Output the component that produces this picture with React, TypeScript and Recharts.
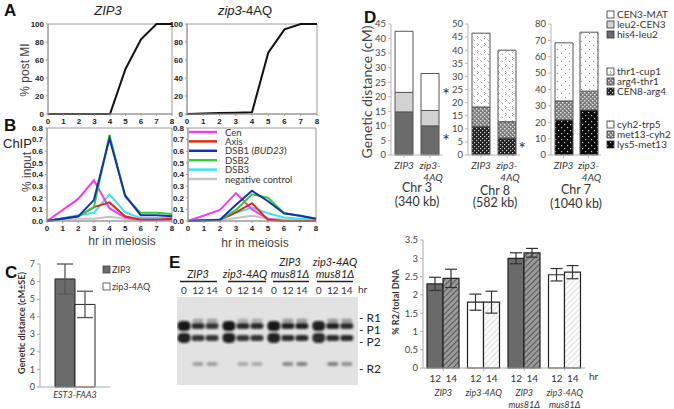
import React from 'react';
import {
  LineChart, Line, XAxis, YAxis, BarChart, Bar, ErrorBar, Cell,
  ScatterChart, Scatter, ReferenceArea,
} from 'recharts';

// ---- panel A: % post MI
const hours = [0, 1, 2, 3, 4, 5, 6, 7, 8];
const postMiZip3 = [0, 0, 0, 0, 0, 50, 83, 100, 100];
const postMiAq = [0, 0.5, 1, 1.5, 2, 68, 94, 100, 100];

// ---- panel B: ChIP % input
const chipHours = [0, 2, 3, 4, 5, 6, 7, 8];
const cenZip3 = [0, 0.19, 0.35, 0.11, 0.03, 0.01, 0.01, 0.01];
const axisZip3 = [0, 0.04, 0.12, 0.16, 0.04, 0.01, 0.01, 0.02];
const dsb1Zip3 = [0, 0.04, 0.18, 0.71, 0.22, 0.05, 0.05, 0.04];
const dsb2Zip3 = [0, 0.04, 0.12, 0.74, 0.21, 0.07, 0.07, 0.06];
const dsb3Zip3 = [0, 0.05, 0.07, 0.23, 0.075, 0.025, 0.025, 0.03];
const negZip3 = [0, 0.02, 0.02, 0.037, 0.02, 0.01, 0.01, 0.01];
const cenAq = [0, 0.095, 0.24, 0.1, 0.02, 0, 0, 0];
const axisAq = [0, 0.01, 0.075, 0.153, 0.01, 0, 0, 0];
const dsb1Aq = [0, 0.01, 0.14, 0.26, 0.17, 0.066, 0.046, 0.02];
const dsb2Aq = [0, 0.01, 0.095, 0.23, 0.2, 0.066, 0.046, 0.02];
const dsb3Aq = [0, 0.01, 0.07, 0.115, 0.066, 0.03, 0.02, 0.02];
const negAq = [0, 0, 0.025, 0.046, 0.02, 0.01, 0.01, 0.01];
const chipSeries = ['Cen', 'Axis', 'DSB1', 'DSB2', 'DSB3', 'negative control'];

// ---- panel C
const cStrains = ['ZIP3', 'zip3-4AQ'];
const cValues = [6.15, 4.7];
const cErrors = [0.85, 0.75];

// ---- panel D (cM, per interval, bottom to top)
const dStrains = ['ZIP3', 'zip3-4AQ'];
const chr3Intervals = ['his4-leu2', 'leu2-CEN3', 'CEN3-MAT'];
const chr3Values = [[14.8, 6.7, 21.0], [10.0, 5.3, 12.7]];
const chr8Intervals = ['CEN8-arg4', 'arg4-thr1', 'thr1-cup1'];
const chr8Values = [[10.8, 7.5, 28.2], [6.5, 6.2, 27.3]];
const chr7Intervals = ['lys5-met13', 'met13-cyh2', 'cyh2-trp5'];
const chr7Values = [[21.5, 11.5, 35.5], [27.5, 11.5, 36.0]];

// ---- panel E gel
const laneHr = ['0', '12', '14', '0', '12', '14', '0', '12', '14', '0', '12', '14'];
const lanePos = [0, 1, 2, 3.2, 4.2, 5.2, 6.4, 7.4, 8.4, 9.6, 10.6, 11.6];
const bandNames = ['R1', 'P1', 'P2', 'R2'];
const bandMobility = [2.7, 3.3, 4.65, 7.6];
const bandIntensity = [
  [0, 0.3, 0.3, 0, 0.25, 0.25, 0, 0.35, 0.35, 0, 0.35, 0.35],
  [0.95, 0.85, 0.8, 0.95, 0.85, 0.85, 0.95, 0.9, 0.9, 0.9, 0.9, 0.85],
  [0.9, 0.8, 0.8, 0.9, 0.8, 0.8, 0.9, 0.85, 0.85, 0.85, 0.85, 0.85],
  [0, 0.3, 0.3, 0, 0.25, 0.25, 0, 0.4, 0.45, 0, 0.45, 0.38],
];

// ---- panel E quantification
const eGenotypes = ['ZIP3', 'zip3-4AQ', 'ZIP3 mus81Δ', 'zip3-4AQ mus81Δ'];
const r2At12 = [2.3, 1.8, 3.0, 2.55];
const r2At14 = [2.45, 1.8, 3.15, 2.62];
const err12 = [0.18, 0.22, 0.15, 0.17];
const err14 = [0.25, 0.3, 0.12, 0.18];

const postMiRows = hours.map((hr, i) => ({ hr, zip3: postMiZip3[i], aq: postMiAq[i] }));
const chipRows = (vals: number[][]) =>
  chipHours.map((hr, i) => {
    const r: any = { hr };
    chipSeries.forEach((s, j) => (r[s] = vals[j][i]));
    return r;
  });
const chipZip3Rows = chipRows([cenZip3, axisZip3, dsb1Zip3, dsb2Zip3, dsb3Zip3, negZip3]);
const chipAqRows = chipRows([cenAq, axisAq, dsb1Aq, dsb2Aq, dsb3Aq, negAq]);
const cRows = [{ name: 'EST3-FAA3', zip3: cValues[0], zip3Err: cErrors[0], aq: cValues[1], aqErr: cErrors[1] }];
const stackRows = (names: string[], vals: number[][]) =>
  dStrains.map((s, i) => {
    const r: any = { name: s };
    names.forEach((n, j) => (r[n] = vals[i][j]));
    return r;
  });
const gelRows = bandNames.flatMap((b, bi) =>
  lanePos
    .map((x, li) => ({ x, y: bandMobility[bi], band: b, int: bandIntensity[bi][li], first: laneHr[li] === '0' }))
    .filter((d) => d.int > 0)
);
const eRows = eGenotypes.map((g, i) => ({ g, h12: r2At12[i], e12: err12[i], h14: r2At14[i], e14: err14[i] }));

const chipColors: Record<string, string> = {
  Cen: '#f23cf0', Axis: '#dd2a12', DSB1: '#1330b4', DSB2: '#2fd02f', DSB3: '#3fe2ef', 'negative control': '#c4c4c4',
};
const drawOrder = ['negative control', 'DSB3', 'Cen', 'Axis', 'DSB2', 'DSB1'];

const chr3Fills = ['#6b6b6b', '#d2d2d2', '#ffffff'];
const chr8Fills = ['url(#dotDark)', 'url(#dotMid)', 'url(#dotLight)'];
const chr7Fills = ['url(#dotBlack)', 'url(#dotMid)', 'url(#dotSparse)'];
const e12Fills = ['#6a6a6a', '#ffffff', '#6a6a6a', '#ffffff'];
const e14Fills = ['url(#hatchDark)', 'url(#hatchLight)', 'url(#hatchDark)', 'url(#hatchLight)'];

const arial = 'Liberation Sans, Arial, sans-serif';
const cal = 'Lato, Open Sans, sans-serif';
const tickBold = { fontSize: 8, fontWeight: 700, fill: '#222', fontFamily: arial };
const grayLine = { stroke: '#9a9a9a' };
const box = (left: number, top: number, width: number, height: number): React.CSSProperties => ({
  position: 'absolute', left, top, width, height,
});

const PostMi = ({ rows, k, left, w, yw, right }: any) => (
  <div style={box(left, 0, w, 130)}>
    <LineChart width={w} height={130} data={rows} margin={{ top: 24, right, bottom: 0, left: 0 }}>
      <XAxis dataKey="hr" type="number" domain={[0, 8]} ticks={hours} interval={0} height={16}
        tickSize={2} tick={tickBold} axisLine={grayLine} tickLine={grayLine} />
      <YAxis domain={[0, 100]} ticks={[0, 20, 40, 60, 80, 100]} width={yw} tickSize={2} interval={0}
        tick={tickBold} axisLine={grayLine} tickLine={grayLine} />
      <ReferenceArea x1={0} x2={8} y1={0} y2={100} fill="none" stroke="#9a9a9a" />
      <Line dataKey={k} stroke="#111" strokeWidth={2} dot={false} isAnimationActive={false} />
    </LineChart>
  </div>
);

const Chip = ({ rows, left, w, yw, right }: any) => (
  <div style={box(left, 118, w, 130)}>
    <LineChart width={w} height={130} data={rows} margin={{ top: 10, right, bottom: 15, left: 0 }}>
      <XAxis dataKey="hr" type="number" domain={[0, 8]} ticks={hours} interval={0} height={12}
        tickSize={2} tick={tickBold} axisLine={grayLine} tickLine={grayLine} />
      <YAxis domain={[0, 0.8]} ticks={[0, 0.1, 0.2, 0.3, 0.4, 0.5, 0.6, 0.7, 0.8]} width={yw} interval={0}
        tickFormatter={(v: number) => v.toFixed(1)} tickSize={2} tick={tickBold}
        axisLine={grayLine} tickLine={grayLine} />
      <ReferenceArea x1={0} x2={8} y1={0} y2={0.8} fill="none" stroke="#9a9a9a" />
      {drawOrder.map((s) => (
        <Line key={s} dataKey={s} stroke={chipColors[s]} strokeWidth={2} dot={false}
          isAnimationActive={false} />
      ))}
    </LineChart>
  </div>
);

const DTick = ({ x, y, payload }: any) => {
  const v: string = payload.value;
  const lines = v === 'zip3-4AQ' ? ['zip3-', '4AQ'] : [v];
  return (
    <g>
      {lines.map((l, i) => (
        <text key={i} x={x + (i ? 3 : 0)} y={y + 9 + i * 12} textAnchor="middle" fontSize={10}
          fontStyle="italic" fill="#333" fontFamily={cal}>{l}</text>
      ))}
    </g>
  );
};

const Stack = ({ rows, names, fills, left, w, yw, max, step }: any) => {
  const ticks: number[] = [];
  for (let t = 0; t <= max; t += step) ticks.push(t);
  return (
    <div style={box(left, 0, w, 210)}>
      <BarChart width={w} height={210} data={rows} margin={{ top: 24, right: 0, bottom: 0, left: 0 }}
        barSize={18}>
        <XAxis dataKey="name" height={55} tick={<DTick />} tickSize={3} axisLine={{ stroke: '#b5b5b5' }}
          tickLine={{ stroke: '#b5b5b5' }} interval={0} />
        <YAxis domain={[0, max]} ticks={ticks} width={yw} interval={0} tickSize={3}
          tick={{ fontSize: 9.5, fill: '#444', fontFamily: cal }} axisLine={{ stroke: '#b5b5b5' }}
          tickLine={{ stroke: '#b5b5b5' }} />
        {names.map((n: string, i: number) => (
          <Bar key={n} dataKey={n} stackId="s" fill={fills[i]} stroke="#555" strokeWidth={1}
            isAnimationActive={false} />
        ))}
      </BarChart>
    </div>
  );
};

const ETick = ({ x, y, payload }: any) => {
  const parts: string[] = payload.value.split(' ');
  return (
    <g fontFamily={cal}>
      <text x={x - 8} y={y + 9} textAnchor="middle" fontSize={10} fill="#333">12</text>
      <text x={x + 8} y={y + 9} textAnchor="middle" fontSize={10} fill="#333">14</text>
      {parts.map((p, i) => (
        <text key={i} x={x} y={y + 23 + i * 12} textAnchor="middle" fontSize={9} fontStyle="italic"
          fill="#333">{p}</text>
      ))}
    </g>
  );
};

const Band = (p: any) => {
  const { cx, cy, payload } = p;
  const small = payload.band === 'R1' || payload.band === 'R2';
  const h = payload.first ? 10 : small ? 4 : 6;
  const w = small ? 11 : 13;
  return (
    <rect x={cx - w / 2} y={cy - h / 2} width={w} height={h} rx={h / 2.2} fill="#0d0d0d"
      opacity={payload.int} filter="url(#blur)" />
  );
};

const Patterns = () => (
  <svg width={0} height={0} style={{ position: 'absolute' }}>
    <defs>
      <pattern id="hatchDark" width="4" height="4" patternUnits="userSpaceOnUse" patternTransform="rotate(45)">
        <rect width="4" height="4" fill="#9a9a9a" />
        <line x1="0" y1="0" x2="0" y2="4" stroke="#444" strokeWidth="1.6" />
      </pattern>
      <pattern id="hatchLight" width="4" height="4" patternUnits="userSpaceOnUse" patternTransform="rotate(45)">
        <rect width="4" height="4" fill="#ffffff" />
        <line x1="0" y1="0" x2="0" y2="4" stroke="#cfcfcf" strokeWidth="1.4" />
      </pattern>
      <pattern id="dotDark" width="4" height="4" patternUnits="userSpaceOnUse">
        <rect width="4" height="4" fill="#1e1e1e" />
        <rect x="0" y="0" width="1.2" height="1.2" fill="#dcdcdc" />
        <rect x="2" y="2" width="1.2" height="1.2" fill="#dcdcdc" />
      </pattern>
      <pattern id="dotMid" width="4" height="4" patternUnits="userSpaceOnUse">
        <rect width="4" height="4" fill="#7c7c7c" />
        <rect x="0" y="0" width="1.4" height="1.4" fill="#e8e8e8" />
        <rect x="2" y="2" width="1.4" height="1.4" fill="#e8e8e8" />
      </pattern>
      <pattern id="dotLight" width="7" height="7" patternUnits="userSpaceOnUse">
        <rect width="7" height="7" fill="#ffffff" />
        <path d="M1 1 l1.5 1.5 l-1.5 1.5" stroke="#8a8a8a" strokeWidth="0.8" fill="none" />
        <path d="M4.5 4.5 l1.5 1.5" stroke="#8a8a8a" strokeWidth="0.8" fill="none" />
      </pattern>
      <pattern id="dotBlack" width="6" height="6" patternUnits="userSpaceOnUse">
        <rect width="6" height="6" fill="#0a0a0a" />
        <rect x="1" y="1" width="1.2" height="1.2" fill="#cfcfcf" />
        <rect x="4" y="4" width="1.2" height="1.2" fill="#cfcfcf" />
      </pattern>
      <pattern id="dotSparse" width="8" height="8" patternUnits="userSpaceOnUse">
        <rect width="8" height="8" fill="#ffffff" />
        <rect x="1" y="1" width="1" height="1" fill="#8a8a8a" />
        <rect x="5" y="5" width="1" height="1" fill="#8a8a8a" />
      </pattern>
      <filter id="blur" x="-50%" y="-80%" width="200%" height="260%">
        <feGaussianBlur stdDeviation="0.9" />
      </filter>
    </defs>
  </svg>
);

const legendD = [
  { names: chr3Intervals, fills: chr3Fills, top: 15 },
  { names: chr8Intervals, fills: chr8Fills, top: 72 },
  { names: chr7Intervals, fills: chr7Fills, top: 125 },
];
const gelGroups = [
  { lines: ['ZIP3'], x: 198, x1: 180, x2: 217 },
  { lines: ['zip3-4AQ'], x: 245, x1: 228, x2: 266 },
  { lines: ['ZIP3', 'mus81Δ'], x: 290, x1: 273, x2: 309 },
  { lines: ['zip3-4AQ', 'mus81Δ'], x: 335, x1: 317, x2: 353 },
];
const bandLabelY = [322, 334, 346, 373];

const Overlay = () => (
  <svg width={674} height={409} style={{ position: 'absolute', left: 0, top: 0, pointerEvents: 'none' }}>
    <g fontFamily={arial} fontWeight={700} fontSize={17} fill="#111">
      <text x={4} y={16}>A</text>
      <text x={4} y={131}>B</text>
      <text x={5} y={278}>C</text>
      <text x={364} y={23}>D</text>
      <text x={169} y={268}>E</text>
    </g>
    <g fontFamily={arial} fill="#222">
      <text x={108} y={15} fontSize={13} fontStyle="italic" textAnchor="middle">ZIP3</text>
      <text x={245} y={15} fontSize={13} textAnchor="middle">
        <tspan fontStyle="italic">zip3</tspan>-4AQ
      </text>
      <text transform="translate(29,70) rotate(-90)" fontSize={12} textAnchor="middle" fill="#444">% post MI</text>
      <text x={3} y={148} fontSize={13}>ChIP</text>
      <text transform="translate(31,172) rotate(-90)" fontSize={12} textAnchor="middle" fill="#444">% input</text>
      <text x={122} y={245} fontSize={12} textAnchor="middle" fill="#444">hr in meiosis</text>
      <text x={255} y={247} fontSize={12} textAnchor="middle" fill="#444">hr in meiosis</text>
    </g>
    {chipSeries.map((s, i) => (
      <g key={s}>
        <line x1={189} x2={217} y1={132 + i * 9.4} y2={132 + i * 9.4} stroke={chipColors[s]} strokeWidth={2.5} />
        <text x={225} y={135.5 + i * 9.4} fontSize={9.5} fontFamily={cal} fill="#333">
          {s === 'DSB1' ? 'DSB1 (' : s}
          {s === 'DSB1' ? <tspan fontStyle="italic">BUD23</tspan> : null}
          {s === 'DSB1' ? ')' : null}
        </text>
      </g>
    ))}
    <g fontFamily={cal} fill="#333">
      <text transform="translate(25,323) rotate(-90)" fontSize={9} fontWeight={700} textAnchor="middle">Genetic distance (cM±SE)</text>
      <rect x={103} y={266} width={7} height={7} fill="#6b6b6b" stroke="#444" strokeWidth={0.8} />
      <text x={112} y={272.5} fontSize={9}>ZIP3</text>
      <rect x={103} y={283} width={7} height={7} fill="#fff" stroke="#444" strokeWidth={0.8} />
      <text x={112} y={289.5} fontSize={9}>zip3-4AQ</text>
      <text transform="translate(372,92) rotate(-90)" fontSize={14} textAnchor="middle" fill="#444">Genetic distance (cM)</text>
      <text x={446} y={101} fontSize={18} textAnchor="middle">*</text>
      <text x={446} y={147} fontSize={18} textAnchor="middle">*</text>
      <text x={522} y={155} fontSize={18} textAnchor="middle">*</text>
      <text x={417} y={192} fontSize={12.5} textAnchor="middle">Chr 3</text>
      <text x={417} y={206} fontSize={12.5} textAnchor="middle">(340 kb)</text>
      <text x={495} y={195} fontSize={12.5} textAnchor="middle">Chr 8</text>
      <text x={495} y={207} fontSize={12.5} textAnchor="middle">(582 kb)</text>
      <text x={576} y={194} fontSize={12.5} textAnchor="middle">Chr 7</text>
      <text x={576} y={208} fontSize={12.5} textAnchor="middle">(1040 kb)</text>
    </g>
    {legendD.map((grp) =>
      grp.names.slice().reverse().map((n, i) => (
        <g key={n}>
          <rect x={607} y={grp.top - 4 + i * 10} width={7} height={7}
            fill={grp.fills[grp.names.length - 1 - i]} stroke="#333" strokeWidth={0.8} />
          <text x={617} y={grp.top + 3 + i * 10} fontSize={10} fontFamily={cal} fill="#333">{n}</text>
        </g>
      ))
    )}
    {gelGroups.map((g, gi) => (
      <g key={gi} fontFamily={cal} fontSize={11} fontStyle="italic" fill="#222">
        {g.lines.map((l, i) => (
          <text key={i} x={g.x} y={278 - (g.lines.length - 1 - i) * 12} textAnchor="middle">{l}</text>
        ))}
        <line x1={g.x1} x2={g.x2} y1={281.5} y2={281.5} stroke="#222" strokeWidth={1.3} />
      </g>
    ))}
    <text x={358} y={293} fontSize={10} fontFamily={cal} fill="#333">hr</text>
    {bandNames.map((b, i) => (
      <text key={b} x={359} y={bandLabelY[i]} fontSize={12} fontFamily={cal} fill="#222">- {b}</text>
    ))}
    <text transform="translate(399,302) rotate(-90)" fontSize={9} fontWeight={700} fontFamily={cal}
      textAnchor="middle" fill="#333">% R2/total DNA</text>
    <text x={589} y={380} fontSize={10} fontFamily={cal} fill="#333">hr</text>
  </svg>
);

export default function App() {
  return (
    <div style={{ position: 'absolute', left: 0, top: 0, width: 674, height: 409, background: '#fff', overflow: 'hidden' }}>
      <Patterns />
      <PostMi rows={postMiRows} k="zip3" left={0} w={180} yw={48} right={8} />
      <PostMi rows={postMiRows} k="aq" left={160} w={162} yw={27} right={5} />
      <Chip rows={chipZip3Rows} left={0} w={180} yw={47} right={8} />
      <Chip rows={chipAqRows} left={160} w={162} yw={28} right={6} />

      <div style={box(0, 250, 120, 159)}>
        <BarChart width={120} height={159} data={cRows} margin={{ top: 14, right: 10, bottom: 0, left: 0 }}
          barSize={20} barGap={0}>
          <XAxis dataKey="name" height={22} tickSize={3} axisLine={{ stroke: '#aaa' }} tickLine={{ stroke: '#aaa' }}
            tick={{ fontSize: 9, fontStyle: 'italic', fill: '#333', fontFamily: cal }} />
          <YAxis domain={[0, 7]} ticks={[0, 1, 2, 3, 4, 5, 6, 7]} width={40} tickSize={3} interval={0}
            tick={{ fontSize: 9, fill: '#444', fontFamily: cal }} axisLine={{ stroke: '#aaa' }} tickLine={{ stroke: '#aaa' }} />
          <Bar dataKey="zip3" name={cStrains[0]} fill="#6b6b6b" stroke="#222" isAnimationActive={false}>
            <ErrorBar dataKey="zip3Err" width={8} stroke="#555" strokeWidth={1.3} />
          </Bar>
          <Bar dataKey="aq" name={cStrains[1]} fill="#fff" stroke="#222" isAnimationActive={false}>
            <ErrorBar dataKey="aqErr" width={8} stroke="#555" strokeWidth={1.3} />
          </Bar>
        </BarChart>
      </div>

      <Stack rows={stackRows(chr3Intervals, chr3Values)} names={chr3Intervals} fills={chr3Fills}
        left={340} w={103} yw={51} max={45} step={5} />
      <Stack rows={stackRows(chr8Intervals, chr8Values)} names={chr8Intervals} fills={chr8Fills}
        left={420} w={100} yw={48} max={50} step={5} />
      <Stack rows={stackRows(chr7Intervals, chr7Values)} names={chr7Intervals} fills={chr7Fills}
        left={500} w={101} yw={51} max={80} step={10} />

      <div style={box(177, 277, 181, 108)}>
        <ScatterChart width={181} height={108} margin={{ top: 0, right: 0, bottom: 0, left: 0 }}>
          <XAxis dataKey="x" type="number" orientation="top" domain={[-0.5, 12.4]} ticks={lanePos}
            interval={0} height={20} axisLine={false} tickLine={false} tickSize={1}
            tickFormatter={(v: number) => laneHr[lanePos.indexOf(v)]}
            tick={{ fontSize: 10, fill: '#333', fontFamily: cal }} />
          <YAxis dataKey="y" type="number" domain={[0, 10]} reversed hide />
          <ReferenceArea x1={-0.5} x2={12.4} y1={0} y2={10} fill="#e2e2e2" fillOpacity={1} stroke="none" />
          <Scatter data={gelRows} shape={<Band />} isAnimationActive={false} />
        </ScatterChart>
      </div>

      <div style={box(380, 225, 215, 184)}>
        <BarChart width={215} height={184} data={eRows} margin={{ top: 15, right: 10, bottom: 0, left: 0 }}
          barSize={16} barGap={0}>
          <XAxis dataKey="g" height={41} tick={<ETick />} tickSize={3} interval={0}
            axisLine={{ stroke: '#aaa' }} tickLine={{ stroke: '#aaa' }} />
          <YAxis domain={[0, 3.5]} ticks={[0, 0.5, 1, 1.5, 2, 2.5, 3, 3.5]} width={43} tickSize={3}
            interval={0} tick={{ fontSize: 9.5, fill: '#444', fontFamily: cal }}
            axisLine={{ stroke: '#aaa' }} tickLine={{ stroke: '#aaa' }} />
          <Bar dataKey="h12" stroke="#222" strokeWidth={1.2} isAnimationActive={false}>
            {eRows.map((_, i) => <Cell key={i} fill={e12Fills[i]} />)}
            <ErrorBar dataKey="e12" width={6} stroke="#333" strokeWidth={1.2} />
          </Bar>
          <Bar dataKey="h14" stroke="#222" strokeWidth={1.2} isAnimationActive={false}>
            {eRows.map((_, i) => <Cell key={i} fill={e14Fills[i]} />)}
            <ErrorBar dataKey="e14" width={6} stroke="#333" strokeWidth={1.2} />
          </Bar>
        </BarChart>
      </div>

      <Overlay />
    </div>
  );
}
